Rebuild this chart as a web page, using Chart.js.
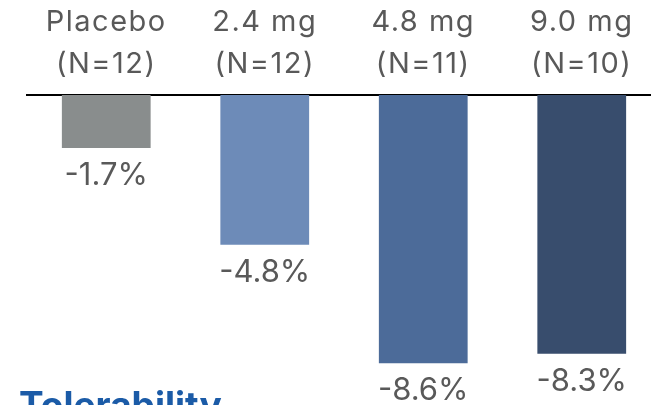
<!DOCTYPE html>
<html>
<head>
<meta charset="utf-8">
<script src="https://cdn.jsdelivr.net/npm/chart.js@4"></script>
<style>
  html, body { margin: 0; padding: 0; background: #fff; overflow: hidden; }
  #wrap { position: relative; width: 680px; height: 405px; }
  #note { position: absolute; left: 19px; top: 382px; font-family: Inter, sans-serif; font-weight: 700; font-size: 37px; color: #1b5ba7; white-space: nowrap; }
</style>
</head>
<body>
<div id="wrap">
  <canvas id="chart" width="680" height="405"></canvas>
  <div id="note">Tolerability</div>
</div>
<script>
  // groups and results
  const groups = ['Placebo', '2.4 mg', '4.8 mg', '9.0 mg'];
  const counts = ['(N=12)', '(N=12)', '(N=11)', '(N=10)'];
  const change = [-1.7, -4.8, -8.6, -8.3];
  const barColors = ['#898d8d', '#6d8bb8', '#4c6b99', '#384d6d'];

  // wider spacing for the group names on top
  const spacing = {
    id: 'spacing',
    beforeDraw(chart) { chart.ctx.letterSpacing = '1.5px'; }
  };

  const valueLabels = {
    id: 'valueLabels',
    afterDatasetsDraw(chart) {
      const ctx = chart.ctx;
      const meta = chart.getDatasetMeta(0);
      ctx.save();
      ctx.letterSpacing = '0px';
      ctx.font = '31px Inter, sans-serif';
      ctx.fillStyle = '#595959';
      ctx.textAlign = 'center';
      ctx.textBaseline = 'top';
      meta.data.forEach(function (bar, i) {
        ctx.fillText(change[i].toFixed(1) + '%', bar.x, bar.y + 12);
      });
      ctx.restore();
    }
  };

  new Chart(document.getElementById('chart'), {
    type: 'bar',
    data: {
      labels: groups.map(function (g, i) { return [g, counts[i]]; }),
      datasets: [{
        data: change,
        backgroundColor: barColors,
        borderWidth: 0,
        barPercentage: 0.56,
        categoryPercentage: 1
      }]
    },
    options: {
      responsive: false,
      animation: false,
      layout: { padding: { left: 27, right: 19, top: 0, bottom: 0 } },
      plugins: { legend: { display: false }, tooltip: { enabled: false } },
      scales: {
        x: {
          position: 'top',
          grid: { display: false, drawTicks: false },
          border: { display: true, color: '#000', width: 2 },
          ticks: {
            color: '#595959',
            padding: 10,
            maxRotation: 0,
            font: { family: 'Inter, sans-serif', size: 29, lineHeight: 1.45 }
          },
          afterFit(scale) { scale.height = 95; }
        },
        y: {
          display: false,
          min: -9.94,
          max: 0
        }
      }
    },
    plugins: [spacing, valueLabels]
  });
</script>
</body>
</html>
